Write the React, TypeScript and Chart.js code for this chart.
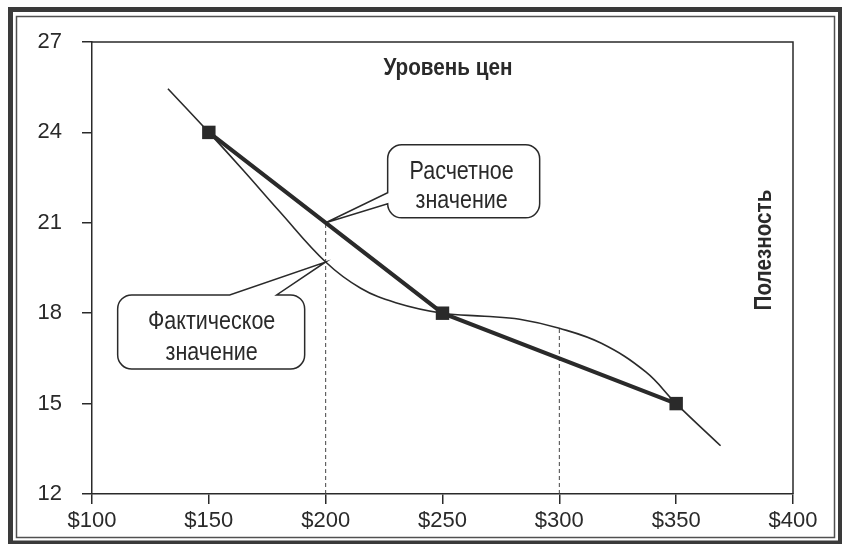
import React, { useEffect, useRef } from 'react';
import { Chart, registerables } from 'chart.js';

Chart.register(...registerables);

// ---- data ----
const xTickValues = [100, 150, 200, 250, 300, 350, 400];
const xTickLabels = ['$100', '$150', '$200', '$250', '$300', '$350', '$400'];
const yTickValues = [12, 15, 18, 21, 24, 27];

const priceLevelX = [150, 250, 350];
const priceLevelY = [24, 18, 15];

const utilityX = [132.5, 150, 165, 180, 200, 215, 230, 250, 268, 283, 300, 318, 337, 350, 369];
const utilityY = [25.45, 24, 22.72, 21.4, 19.7, 18.83, 18.35, 18, 17.9, 17.8, 17.5, 17.0, 16.05, 15, 13.6];

const dropLineX = [200, 300];
const dropLineTopY = [21, 17.5];

const priceTitle = 'Уровень цен';
const utilityTitle = 'Полезность';
const estimatedLines = ['Расчетное', 'значение'];
const actualLines = ['Фактическое', 'значение'];

const INK = '#2a2a2a';
const FONT = "'Liberation Sans', Arial, Helvetica, sans-serif";

function condText(ctx: CanvasRenderingContext2D, text: string, x: number, y: number, font: string, sx: number) {
  ctx.save();
  ctx.font = font;
  ctx.textAlign = 'center';
  ctx.textBaseline = 'alphabetic';
  ctx.fillStyle = INK;
  ctx.translate(x, y);
  ctx.scale(sx, 1);
  ctx.fillText(text, 0, 0);
  ctx.restore();
}

export default function App() {
  const ref = useRef<HTMLCanvasElement>(null);

  useEffect(() => {
    const canvas = ref.current!;

    const decor = {
      id: 'decor',
      beforeDraw(chart: any) {
        const ctx = chart.ctx as CanvasRenderingContext2D;
        ctx.save();
        ctx.fillStyle = '#ffffff';
        ctx.fillRect(0, 0, chart.width, chart.height);
        ctx.restore();
      },
      afterDraw(chart: any) {
        const ctx = chart.ctx as CanvasRenderingContext2D;
        const { left, right, top, bottom } = chart.chartArea;
        const xs = chart.scales.x;
        const ys = chart.scales.y;

        // plot frame top/right
        ctx.save();
        ctx.strokeStyle = INK;
        ctx.lineWidth = 1.5;
        ctx.beginPath();
        ctx.moveTo(left, top);
        ctx.lineTo(right, top);
        ctx.lineTo(right, bottom);
        ctx.stroke();

        // outer page frame
        ctx.strokeStyle = '#3a3a3a';
        ctx.lineWidth = 5;
        ctx.strokeRect(10.5, 9.5, 830, 533.5);
        ctx.strokeStyle = '#505050';
        ctx.lineWidth = 1.5;
        ctx.strokeRect(16.5, 16.5, 818, 521);
        ctx.restore();

        // titles
        condText(ctx, priceTitle, 448, 75, `bold 23px ${FONT}`, 0.9);
        ctx.save();
        ctx.translate(771, 250);
        ctx.rotate(-Math.PI / 2);
        condText(ctx, utilityTitle, 0, 0, `bold 23px ${FONT}`, 0.9);
        ctx.restore();

        // callout: estimated (tip on price line at x=200)
        const e = { x: xs.getPixelForValue(dropLineX[0]), y: ys.getPixelForValue(dropLineTopY[0]) };
        {
          const L = e.x + 62, T = e.y - 78, R = L + 152, B = T + 73, r = 14;
          ctx.save();
          ctx.beginPath();
          ctx.moveTo(L + r, T);
          ctx.lineTo(R - r, T);
          ctx.arcTo(R, T, R, T + r, r);
          ctx.lineTo(R, B - r);
          ctx.arcTo(R, B, R - r, B, r);
          ctx.lineTo(L + r, B);
          ctx.arcTo(L, B, L, B - r, r);
          ctx.lineTo(e.x, e.y);
          ctx.lineTo(L, T + 48);
          ctx.lineTo(L, T + r);
          ctx.arcTo(L, T, L + r, T, r);
          ctx.closePath();
          ctx.fillStyle = '#ffffff';
          ctx.fill();
          ctx.strokeStyle = INK;
          ctx.lineWidth = 1.5;
          ctx.stroke();
          ctx.restore();
          condText(ctx, estimatedLines[0], L + 74, T + 34, `25px ${FONT}`, 0.86);
          condText(ctx, estimatedLines[1], L + 74, T + 63, `25px ${FONT}`, 0.86);
        }

        // callout: actual (tip on utility curve at x=200)
        const ai = utilityX.indexOf(200);
        const a = { x: xs.getPixelForValue(utilityX[ai]), y: ys.getPixelForValue(utilityY[ai]) };
        {
          const L = a.x - 208, T = a.y + 33, R = L + 187, B = T + 74, r = 14;
          ctx.save();
          ctx.beginPath();
          ctx.moveTo(L + r, T);
          ctx.lineTo(a.x - 96, T);
          ctx.lineTo(a.x, a.y);
          ctx.lineTo(a.x - 49, T);
          ctx.lineTo(R - r, T);
          ctx.arcTo(R, T, R, T + r, r);
          ctx.lineTo(R, B - r);
          ctx.arcTo(R, B, R - r, B, r);
          ctx.lineTo(L + r, B);
          ctx.arcTo(L, B, L, B - r, r);
          ctx.lineTo(L, T + r);
          ctx.arcTo(L, T, L + r, T, r);
          ctx.closePath();
          ctx.fillStyle = '#ffffff';
          ctx.fill();
          ctx.strokeStyle = INK;
          ctx.lineWidth = 1.5;
          ctx.stroke();
          ctx.restore();
          condText(ctx, actualLines[0], L + 94, T + 34, `25px ${FONT}`, 0.86);
          condText(ctx, actualLines[1], L + 94, T + 65, `25px ${FONT}`, 0.86);
        }
      },
    };

    const dropSets = dropLineX.map((x, i) => ({
      label: 'drop' + i,
      data: [{ x, y: 12 }, { x, y: dropLineTopY[i] }],
      borderColor: '#444',
      borderWidth: 1,
      borderDash: [4, 3],
      pointRadius: 0,
      fill: false,
      order: 3,
    }));

    const chart = new Chart(canvas, {
      type: 'line',
      data: {
        datasets: [
          ...dropSets,
          {
            label: 'utility',
            data: utilityX.map((x, i) => ({ x, y: utilityY[i] })),
            borderColor: INK,
            borderWidth: 1.6,
            pointRadius: 0,
            tension: 0.4,
            fill: false,
            order: 2,
          },
          {
            label: 'price',
            data: priceLevelX.map((x, i) => ({ x, y: priceLevelY[i] })),
            borderColor: INK,
            borderWidth: 4,
            tension: 0,
            pointStyle: 'rect',
            pointRadius: 9.5,
            pointBackgroundColor: INK,
            pointBorderColor: INK,
            pointBorderWidth: 0,
            fill: false,
            order: 1,
          },
        ] as any,
      },
      options: {
        responsive: false,
        animation: false,
        events: [],
        layout: { padding: { top: 42, right: 49, left: 0, bottom: 0 } },
        plugins: { legend: { display: false }, tooltip: { enabled: false } },
        scales: {
          x: {
            type: 'linear',
            min: 100,
            max: 400,
            afterBuildTicks: (s: any) => { s.ticks = xTickValues.map((v) => ({ value: v })); },
            afterFit: (s: any) => { s.height = 50; },
            ticks: {
              autoSkip: false,
              maxRotation: 0,
              padding: 4,
              color: INK,
              font: { family: FONT, size: 22 },
              callback: (v: any) => xTickLabels[xTickValues.indexOf(Number(v))],
            },
            grid: { display: true, drawOnChartArea: false, drawTicks: true, tickLength: 10, color: INK, lineWidth: 1.5 },
            border: { display: true, color: INK, width: 1.5 },
          },
          y: {
            type: 'linear',
            min: 12,
            max: 27,
            afterBuildTicks: (s: any) => { s.ticks = yTickValues.map((v) => ({ value: v })); },
            afterFit: (s: any) => { s.width = 92; },
            ticks: {
              autoSkip: false,
              padding: 20,
              color: INK,
              font: { family: FONT, size: 22 },
              callback: (v: any) => String(v),
            },
            grid: { display: true, drawOnChartArea: false, drawTicks: true, tickLength: 10, color: INK, lineWidth: 1.5 },
            border: { display: true, color: INK, width: 1.5 },
          },
        },
      } as any,
      plugins: [decor],
    });

    return () => chart.destroy();
  }, []);

  return (
    <div style={{ position: 'fixed', left: 0, top: 0, width: 842, height: 544, background: '#fff' }}>
      <canvas ref={ref} width={842} height={544} style={{ display: 'block', width: 842, height: 544 }} />
    </div>
  );
}
